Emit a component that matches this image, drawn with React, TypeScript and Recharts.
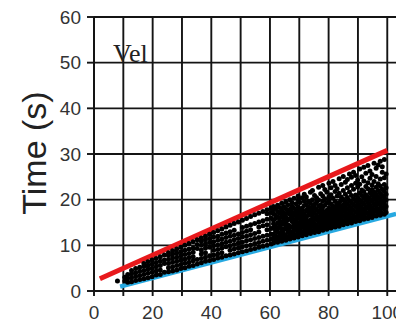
import React from 'react';
import { ComposedChart, Scatter, Line, XAxis, YAxis, CartesianGrid } from 'recharts';

// Distance columns and the times recorded at each one (dense part of the run).
const denseDistances = [
  8, 10.5, 11.5, 12.8, 14.2, 15.6, 17.0, 18.4, 19.8, 21.2, 22.6, 24.0, 25.4, 26.8, 28.2, 29.6,
  31.0, 32.4, 33.8, 35.2, 36.6, 38.0, 39.4, 40.8, 42.2, 43.6, 45.0, 46.4, 47.8, 49.2, 50.6, 52.0,
  53.4, 54.8, 56.2, 57.6, 59.0, 60.4,
];
const denseTimes = [
  [2.2],
  [2.2, 3.0],
  [1.9, 2.8, 3.6],
  [2.0, 2.9, 3.8, 4.5],
  [2.3, 3.2, 4.0, 4.9],
  [2.5, 3.4, 4.3, 5.2],
  [2.7, 3.6, 4.5, 5.4, 6.0],
  [2.9, 3.9, 4.8, 5.6, 6.4],
  [3.1, 4.1, 5.0, 5.9, 6.8],
  [3.5, 4.4, 5.3, 6.2, 7.1],
  [3.6, 4.6, 5.6, 6.5, 7.5],
  [4.1, 6.0, 6.8, 7.9],
  [4.2, 5.1, 6.0, 6.9, 7.8, 8.4],
  [4.4, 5.3, 6.3, 7.2, 8.1, 8.8],
  [4.6, 5.6, 6.5, 7.4, 8.3, 9.2],
  [4.9, 5.8, 6.8, 7.7, 8.6, 9.6],
  [5.1, 6.1, 7.0, 8.0, 8.9, 10.0],
  [5.4, 6.3, 7.3, 8.2, 9.2, 10.4],
  [5.6, 6.6, 7.5, 8.5, 9.4, 10.8],
  [5.9, 6.9, 9.3, 10.2, 11.2],
  [6.2, 7.1, 8.1, 9.0, 10.0, 10.9, 11.6],
  [6.5, 7.4, 8.4, 9.4, 10.3, 11.2, 12.0],
  [6.7, 7.7, 9.6, 10.6, 11.5, 12.4],
  [6.9, 7.9, 8.9, 9.9, 10.8, 11.8, 12.8],
  [7.2, 8.1, 9.1, 10.1, 11.1, 12.0, 13.2],
  [7.4, 8.4, 9.4, 10.4, 11.4, 12.4, 13.6],
  [7.7, 9.7, 10.7, 11.7, 12.7, 14.0],
  [7.9, 8.9, 9.9, 10.9, 12.0, 13.0, 14.4],
  [8.1, 9.2, 10.2, 11.2, 12.2, 13.3, 14.8],
  [8.4, 9.4, 10.5, 11.5, 12.5, 15.1],
  [8.6, 9.7, 10.7, 11.8, 12.8, 13.9, 15.5],
  [8.8, 9.9, 11.0, 12.0, 13.1, 14.2, 15.9],
  [9.1, 10.1, 11.2, 12.3, 13.4, 14.5, 16.3],
  [9.3, 10.4, 11.5, 12.6, 14.8, 16.7],
  [9.6, 10.6, 11.7, 12.9, 14.0, 15.1, 17.0],
  [9.8, 10.9, 12.0, 14.3, 15.4, 17.4],
  [10.0, 11.1, 12.2, 13.4, 14.5, 15.7, 16.9, 17.8],
  [10.3, 11.4, 12.5, 13.7, 16.0, 17.2, 18.2],
];

// Longer distances, where the times spread out more.
const spreadDistances = [
  61.2, 61.9, 62.6, 63.3, 64.0, 64.7, 65.4, 66.1, 66.8, 67.5, 68.2, 68.9, 69.6, 70.3, 71.0, 71.7,
  72.4, 73.1, 73.8, 74.5, 75.2, 75.9, 76.6, 77.3, 78.0, 78.7, 79.4, 80.1, 80.8, 81.5, 82.2, 82.9,
  83.6, 84.3, 85.0, 85.7, 86.4, 87.1, 87.8, 88.5, 89.2, 89.9, 90.6, 91.3, 92.0, 92.7, 93.4, 94.1,
  94.8, 95.5, 96.2, 96.9, 97.6, 98.3, 99.0, 99.6,
];
const spreadTimes = [
  [10.5, 11.6, 12.4, 13.8, 14.7, 15.5, 16.9, 17.8, 18.5],
  [11.0, 12.1, 13.2, 14.1, 15.9, 16.6, 18.1],
  [10.7, 11.5, 12.9, 13.6, 14.9, 16.2, 17.4, 18.8],
  [11.3, 12.2, 14.3, 15.3, 16.0, 17.1, 18.3],
  [10.9, 11.9, 12.9, 13.7, 15.0, 16.5, 17.7, 19.2],
  [11.5, 12.5, 13.4, 14.6, 15.7, 17.1, 18.5],
  [11.1, 12.0, 13.9, 15.0, 16.2, 16.9, 18.0, 19.5],
  [11.7, 12.8, 13.5, 14.5, 15.6, 17.4, 18.9],
  [11.4, 12.3, 13.1, 14.2, 15.9, 16.8, 17.9, 20.0],
  [12.0, 12.9, 14.0, 15.2, 16.3, 17.3, 18.6, 19.4],
  [11.6, 12.5, 13.6, 14.7, 15.6, 16.9, 18.1, 20.3],
  [12.2, 13.3, 14.2, 15.4, 16.4, 17.6, 19.1],
  [11.8, 12.8, 13.9, 14.9, 16.0, 17.1, 18.4, 19.9, 20.8],
  [12.4, 13.5, 14.6, 15.8, 16.7, 17.8, 19.4],
  [12.1, 13.0, 14.1, 15.2, 16.4, 17.4, 18.2, 20.4],
  [12.7, 13.8, 14.8, 15.7, 16.9, 18.7, 19.7, 21.2],
  [12.3, 13.3, 14.4, 15.4, 16.2, 17.7, 18.9, 20.6],
  [12.9, 14.0, 15.0, 16.6, 17.3, 18.4, 19.6],
  [12.6, 13.6, 14.6, 15.6, 16.9, 17.9, 19.2, 21.6],
  [13.1, 14.2, 15.3, 16.3, 17.6, 18.5, 20.0, 22.0],
  [12.8, 13.8, 14.8, 15.9, 17.0, 18.2, 19.0, 20.9],
  [13.4, 14.4, 15.6, 16.5, 17.8, 19.5, 20.4],
  [13.0, 14.0, 15.1, 16.2, 17.3, 18.6, 19.9, 22.7],
  [13.6, 14.7, 15.8, 16.9, 18.0, 18.9, 21.3],
  [13.3, 14.3, 15.3, 16.5, 17.5, 18.4, 19.7, 20.8, 23.1],
  [13.8, 14.9, 16.0, 17.1, 18.8, 20.2, 22.2],
  [13.5, 14.5, 15.6, 16.7, 17.7, 19.3, 21.6],
  [14.1, 15.1, 16.2, 17.4, 18.2, 19.9, 20.7, 23.6],
  [13.8, 14.7, 15.8, 16.9, 18.0, 19.1, 21.1, 22.6],
  [14.3, 15.4, 16.5, 17.6, 18.6, 20.3, 24.0],
  [14.0, 15.0, 16.1, 17.2, 18.3, 19.6, 21.8, 23.1],
  [14.5, 15.6, 16.7, 17.9, 19.0, 20.8, 22.4],
  [14.2, 15.2, 16.3, 17.4, 18.6, 19.4, 21.4, 24.6],
  [14.7, 15.8, 17.0, 18.1, 19.8, 20.6, 23.3],
  [14.5, 15.4, 16.5, 17.7, 18.9, 20.1, 22.0, 25.1],
  [15.0, 16.1, 17.2, 18.4, 19.5, 21.2, 23.8],
  [14.7, 15.7, 16.8, 17.9, 19.1, 20.5, 22.6, 24.4],
  [15.2, 16.3, 17.5, 18.6, 19.8, 21.7, 25.6],
  [14.9, 15.9, 17.0, 18.2, 19.4, 20.9, 23.1, 24.9],
  [15.4, 16.5, 17.7, 18.9, 20.2, 22.3, 26.0],
  [15.2, 16.1, 17.3, 18.5, 19.7, 21.0, 23.6, 25.3],
  [15.6, 16.8, 18.0, 19.2, 20.5, 22.8, 24.3],
  [15.4, 16.4, 17.5, 18.7, 20.0, 21.4, 23.4, 26.7],
  [15.9, 17.0, 18.2, 19.5, 20.9, 22.1, 25.0],
  [15.7, 16.6, 17.8, 19.0, 20.3, 21.8, 24.1, 27.1],
  [16.1, 17.3, 18.5, 19.8, 21.1, 22.9, 25.8],
  [15.9, 16.9, 18.1, 19.3, 20.6, 22.4, 23.7, 27.5],
  [16.4, 17.6, 18.8, 20.1, 21.5, 24.7, 26.3],
  [16.1, 17.1, 18.3, 19.6, 20.9, 22.2, 23.2, 25.5],
  [16.6, 17.8, 19.1, 20.4, 21.7, 24.0, 28.0],
  [16.4, 17.4, 18.6, 19.9, 21.2, 22.7, 25.1, 26.9],
  [16.8, 18.0, 19.4, 20.6, 22.0, 23.5, 27.6],
  [16.6, 17.6, 18.9, 20.2, 21.4, 23.0, 24.5, 28.4],
  [17.0, 18.3, 19.6, 20.9, 22.3, 26.0, 27.2],
  [16.8, 17.9, 19.1, 20.5, 21.8, 23.3, 24.8, 28.8],
  [17.2, 18.5, 19.9, 21.2, 22.6, 25.6],
];

// Envelope lines drawn over the samples.
const upperEnvelope = [
  { x: 2, y: 2.7 },
  { x: 100, y: 30.8 },
];
const lowerEnvelope = [
  { x: 8.9, y: 0.95 },
  { x: 103, y: 16.9 },
];

const xTicks = [0, 10, 20, 30, 40, 50, 60, 70, 80, 90, 100];
const yTicks = [0, 10, 20, 30, 40, 50, 60];

const samples = [
  ...denseDistances.flatMap((x, i) => denseTimes[i].map((y) => ({ x, y }))),
  ...spreadDistances.flatMap((x, i) => spreadTimes[i].map((y) => ({ x, y }))),
];

const GRID = '#141414';
const GRID_W = 1.9;
const SANS = "'Liberation Sans', Arial, Helvetica, sans-serif";
const tickStyle = { fontSize: 19, fill: '#333', fontFamily: SANS };

const SampleDot = (props: any) => <circle cx={props.cx} cy={props.cy} r={2.5} fill="#000" />;

export default function App() {
  return (
    <div style={{ position: 'absolute', left: 0, top: 0, background: '#fff' }}>
      <ComposedChart
        width={420}
        height={323}
        margin={{ top: 0, right: 21, bottom: 0, left: 0 }}
      >
        <CartesianGrid stroke={GRID} strokeWidth={GRID_W} />
        <XAxis
          dataKey="x"
          type="number"
          domain={[0, 104]}
          ticks={xTicks}
          height={32}
          tickSize={5}
          tickMargin={10}
          tick={tickStyle}
          tickFormatter={(v: number) => (v % 20 === 0 ? String(v) : '')}
          axisLine={{ stroke: GRID, strokeWidth: GRID_W }}
          tickLine={{ stroke: GRID, strokeWidth: GRID_W }}
          interval={0}
        />
        <XAxis
          xAxisId="top"
          orientation="top"
          type="number"
          domain={[0, 104]}
          ticks={xTicks}
          height={17}
          tickSize={7}
          tickFormatter={() => ''}
          axisLine={false}
          tickLine={{ stroke: GRID, strokeWidth: GRID_W }}
          interval={0}
        />
        <YAxis
          dataKey="y"
          type="number"
          domain={[0, 60]}
          ticks={yTicks}
          width={94}
          tickSize={7}
          tickMargin={6}
          tick={tickStyle}
          axisLine={{ stroke: GRID, strokeWidth: GRID_W }}
          tickLine={{ stroke: GRID, strokeWidth: GRID_W }}
          interval={0}
        />
        <Scatter data={samples} dataKey="y" shape={SampleDot} isAnimationActive={false} />
        <Line
          data={lowerEnvelope}
          dataKey="y"
          stroke="#27a9e1"
          strokeWidth={4.5}
          dot={false}
          activeDot={false}
          isAnimationActive={false}
        />
        <Line
          data={upperEnvelope}
          dataKey="y"
          stroke="#e8191c"
          strokeWidth={5}
          dot={false}
          activeDot={false}
          isAnimationActive={false}
        />
        <text
          x={113}
          y={62}
          fontFamily="'Liberation Serif', 'Times New Roman', serif"
          fontSize={26}
          fill="#222"
        >
          Vel
        </text>
        <text
          transform="translate(46,153) rotate(-90)"
          textAnchor="middle"
          fontFamily={SANS}
          fontSize={34}
          fill="#222"
        >
          Time (s)
        </text>
      </ComposedChart>
    </div>
  );
}
